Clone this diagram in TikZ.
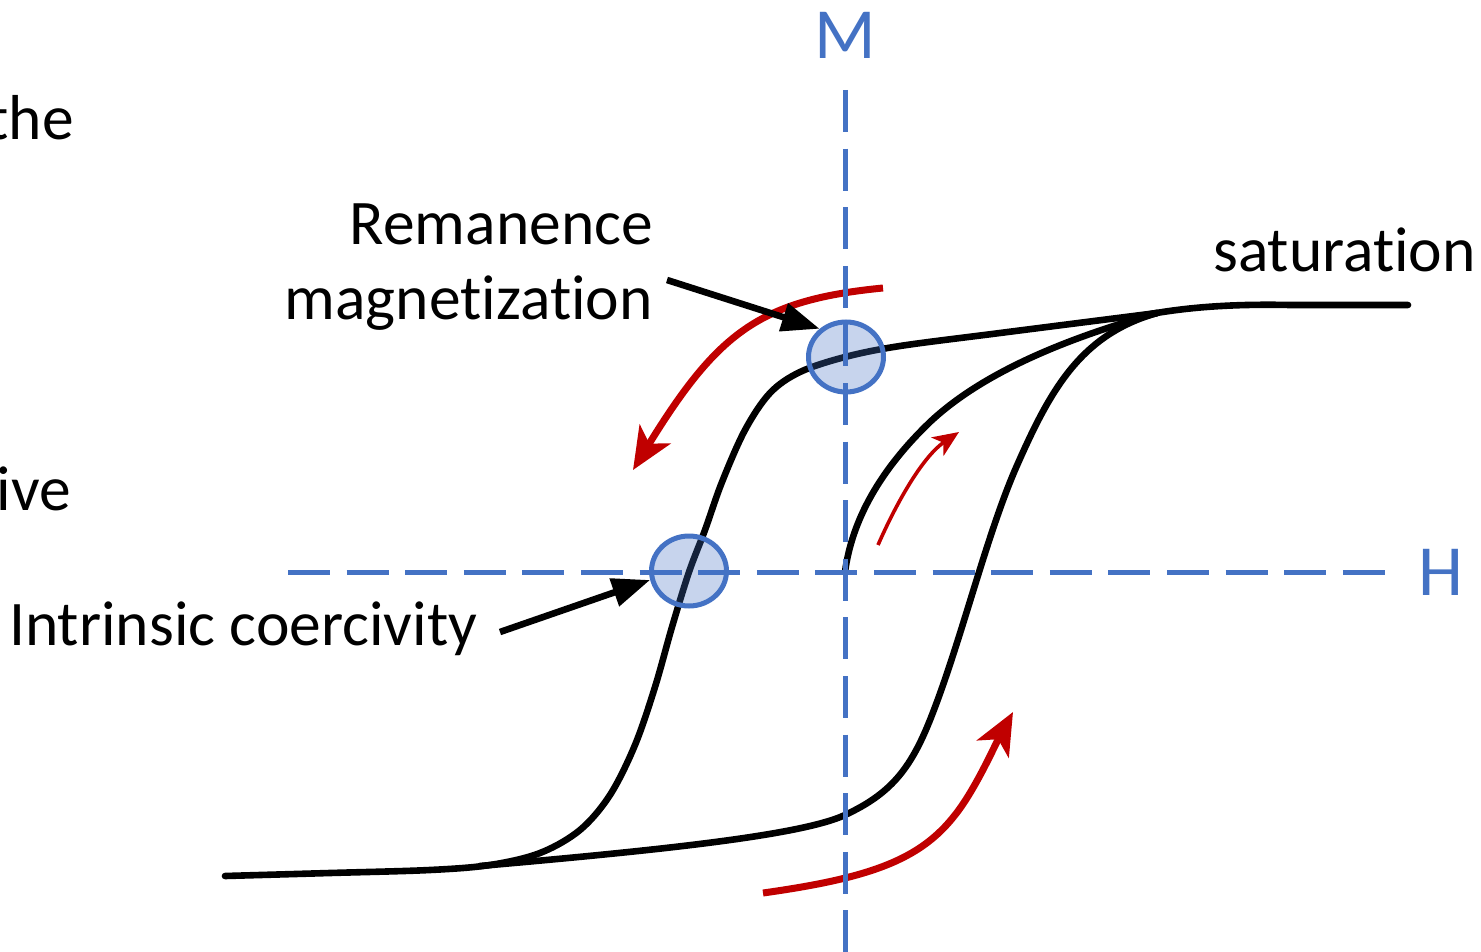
\documentclass[tikz,border=0pt]{standalone}
\usepackage{fontspec}
\setmainfont{Carlito}[RawFeature={-liga;-clig;-calt;-dlig}]
\usetikzlibrary{arrows.meta,shapes.geometric}
\definecolor{axisblue}{HTML}{4472C4}
\definecolor{arrowred}{HTML}{C00000}
\begin{document}
\begin{tikzpicture}[x=1pt,y=-1pt,
  lbl/.style={inner sep=0pt, font=\fontsize{63.5}{76}\selectfont},
  axislbl/.style={inner sep=0pt, text=axisblue, font=\fontsize{72}{86}\selectfont},
  axisline/.style={draw=axisblue, line width=5pt, dash pattern=on 42pt off 16.6pt},
  loopline/.style={draw=black, line width=6.6pt, line cap=round, line join=round},
  redarr/.style={draw=arrowred, line width=7pt, -{Stealth[length=42pt,width=36pt,inset=11pt]}},
  thinred/.style={draw=arrowred, line width=3.6pt, -{Stealth[length=26pt,width=22pt,inset=7pt]}},
  pointer/.style={draw=black, line width=6.6pt, -{Triangle[length=38pt,width=28pt]}},
  marker/.style={ellipse, draw=axisblue, line width=5pt, fill=axisblue, fill opacity=0.3, draw opacity=1, minimum width=75pt, minimum height=70pt, inner sep=0pt}
]
\useasboundingbox (0,0) rectangle (1481,952);

% hysteresis loop: descending branch
\draw[loopline] plot[smooth, tension=0.55] coordinates {
  (1157,313) (1000,333) (900,346) (845,357) (800,372) (770,393) (745,430)
  (722,482) (705,530) (689,572) (672,627) (655,687) (635,745) (610,795)
  (580,830) (540,853) (490,865) (430,870) (330,873) (225,876)};
% ascending branch
\draw[loopline] (480,866) .. controls (650,851) and (800,836) .. (845,815)
  .. controls (890,794) and (910,770) .. (930,720)
  .. controls (960,645) and (985,540) .. (1015,470)
  .. controls (1050,390) and (1080,335) .. (1157,313);
% initial magnetization curve
\draw[loopline] (845,572) .. controls (852,520) and (880,470) .. (930,422)
  .. controls (980,375) and (1060,340) .. (1157,313);
% saturation
\draw[loopline] (1140,316) .. controls (1190,306) and (1240,304) .. (1290,305)
  -- (1408,305);

% red direction arrows
\coordinate (r1s) at (883,288);
\coordinate (r1e) at (633,470);
\draw[redarr] (r1s) .. controls (760,300) and (718,332) .. (r1e);
\coordinate (r2s) at (878,545);
\coordinate (r2e) at (959,432);
\draw[thinred] (r2s) .. controls (900,495) and (925,455) .. (r2e);
\coordinate (r3s) at (763,893);
\coordinate (r3m) at (955,815);
\coordinate (r3e) at (1013,712);
\draw[redarr] (r3s) .. controls (870,878) and (920,860) .. (r3m)
  .. controls (975,790) and (995,745) .. (r3e);

% markers
\node[marker] (rem) at (846,357) {};
\node[marker] (coer) at (689,571) {};

% axes
\coordinate (vtop) at (845,90);
\coordinate (vbot) at (845,952);
\coordinate (hl) at (288,572);
\coordinate (hr) at (1392,572);
\draw[axisline] (vtop) -- (vbot);
\draw[axisline] (hl) -- (hr);
\node[axislbl, anchor=base] (M) at (845,59) {M};
\node[axislbl, anchor=base west] (H) at (1418,595) {H};

% labels and pointers
\node[lbl, anchor=base east] (remA) at (653,245) {Remanence};
\node[lbl, anchor=base east] (remB) at (653,319) {magnetization};
\node[lbl, anchor=base west] (coerlbl) at (9,645) {Intrinsic coercivity};
\node[lbl, anchor=base west] (sat) at (1213,272) {saturation};
\node[lbl, anchor=base east] (the) at (74,140) {the};
\node[lbl, anchor=base east] (ive) at (71,510) {ive};

\coordinate (p1s) at (667,280);
\coordinate (p2s) at (500,632);
\draw[pointer] (p1s) -- (rem.133);
\draw[pointer] (p2s) -- (coer.193);
\end{tikzpicture}
\end{document}
